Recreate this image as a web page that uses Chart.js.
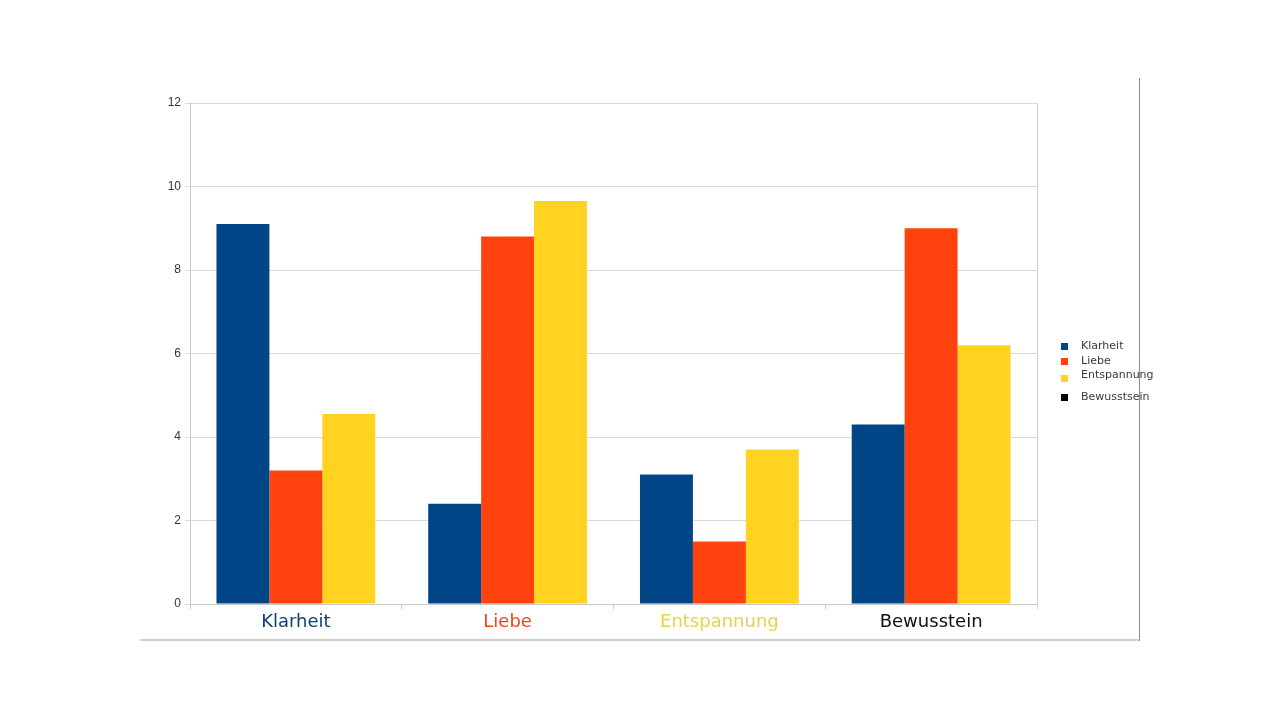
<!DOCTYPE html>
<html>
<head>
<meta charset="utf-8">
<script src="https://cdn.jsdelivr.net/npm/chart.js@4"></script>
<style>
  html, body { margin: 0; padding: 0; background: #fff; }
  #wrap { width: 1280px; height: 720px; position: relative; }
</style>
</head>
<body>
<div id="wrap"><canvas id="chart" width="1280" height="720"></canvas></div>
<script>
// ----------------------------------------------------------------
//  Daten
// ----------------------------------------------------------------
const categories   = ['Klarheit', 'Liebe', 'Entspannung', 'Bewusstein'];
const klarheit     = [9.1, 2.4, 3.1, 4.3];
const liebe        = [3.2, 8.8, 1.5, 9.0];
const entspannung  = [4.55, 9.65, 3.7, 6.2];
const legendLabels = ['Klarheit', 'Liebe', 'Entspannung', 'Bewusstsein'];
const yTicks       = [0, 2, 4, 6, 8, 10, 12];

const seriesColors = ['#004586', '#ff420e', '#ffd320', '#000000'];
const labelColors  = ['#123f6e', '#f0451a', '#e6d24e', '#111111'];

// ----------------------------------------------------------------
//  Legende + Rahmenlinien
// ----------------------------------------------------------------
const extrasPlugin = {
  id: 'extras',
  afterDraw(chart) {
    const ctx = chart.ctx;
    const area = chart.chartArea;
    ctx.save();

    // rechte Kante der Zeichenfläche
    ctx.strokeStyle = '#d0d0d0';
    ctx.lineWidth = 1;
    ctx.beginPath();
    ctx.moveTo(Math.round(area.right) + 0.5, area.top);
    ctx.lineTo(Math.round(area.right) + 0.5, area.bottom + 5);
    ctx.stroke();

    // Folienrahmen
    ctx.strokeStyle = '#8a8a8a';
    ctx.beginPath();
    ctx.moveTo(1139.5, 78);
    ctx.lineTo(1139.5, 641);
    ctx.stroke();
    ctx.strokeStyle = '#cfcfcf';
    ctx.lineWidth = 2;
    ctx.beginPath();
    ctx.moveTo(140, 640);
    ctx.lineTo(1139, 640);
    ctx.stroke();

    // Legende
    const ys = [346, 361, 375, 397];
    ctx.font = '11px "DejaVu Sans", sans-serif';
    ctx.textBaseline = 'middle';
    legendLabels.forEach((label, i) => {
      ctx.fillStyle = seriesColors[i];
      ctx.fillRect(1061, ys[i] - 3 + (i === 2 ? 3 : 0), 7, 7);
      ctx.fillStyle = '#3a3a3a';
      ctx.fillText(label, 1081, ys[i]);
    });
    ctx.restore();
  }
};

new Chart(document.getElementById('chart'), {
  type: 'bar',
  data: {
    labels: categories,
    datasets: [
      { label: legendLabels[0], data: klarheit,    backgroundColor: seriesColors[0] },
      { label: legendLabels[1], data: liebe,       backgroundColor: seriesColors[1] },
      { label: legendLabels[2], data: entspannung, backgroundColor: seriesColors[2] },
    ]
  },
  options: {
    responsive: false,
    animation: false,
    datasets: { bar: { categoryPercentage: 0.75, barPercentage: 1.0, borderWidth: 0 } },
    layout: { padding: { left: 140, right: 243, top: 103, bottom: 80 } },
    plugins: { legend: { display: false }, tooltip: { enabled: false } },
    scales: {
      x: {
        offset: true,
        grid: { offset: true, drawOnChartArea: false, drawTicks: true, tickLength: 5, color: '#c8c8c8' },
        border: { color: '#c8c8c8' },
        ticks: {
          padding: 3,
          color: ctx => labelColors[ctx.index],
          font: { family: '"DejaVu Sans", sans-serif', size: 18 }
        },
        afterFit: s => { s.height = 36; }
      },
      y: {
        min: 0, max: 12,
        afterBuildTicks: s => { s.ticks = yTicks.map(v => ({ value: v })); },
        grid: { color: '#dadada', tickLength: 5 },
        border: { color: '#c8c8c8' },
        ticks: {
          padding: 4,
          color: '#333',
          font: { family: '"Liberation Sans", sans-serif', size: 12 }
        },
        afterFit: s => { s.width = 50; }
      }
    }
  },
  plugins: [extrasPlugin]
});
</script>
</body>
</html>
